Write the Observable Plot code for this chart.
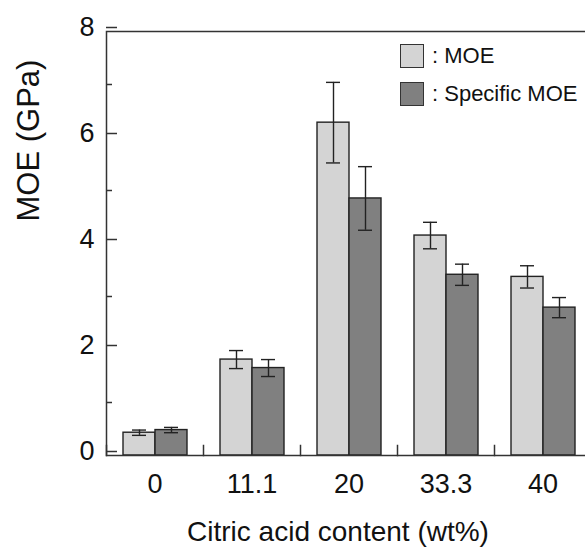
<!DOCTYPE html>
<html><head><meta charset="utf-8">
<script src="https://cdn.jsdelivr.net/npm/d3@7"></script>
<script src="https://cdn.jsdelivr.net/npm/@observablehq/plot@0.6"></script>
<style>
body{margin:0;background:#fff;font-family:"Liberation Sans",Arial,sans-serif}
#wrap{position:relative;width:585px;height:547px;overflow:hidden;background:#fff}
.lg{position:absolute;left:400px;display:flex;align-items:center;font-size:22px;color:#111;white-space:nowrap}
.lg .box{width:22px;height:22px;border:1.5px solid #333;margin-right:8px}
</style></head><body><div id="wrap"></div>
<script>
const categories = ["0","11.1","20","33.3","40"];
const series = ["MOE","Specific MOE"];
const legendLabels = [": MOE", ": Specific MOE"];
const moe = [0.43,1.81,6.28,4.15,3.37];
const moeErr = [0.05,0.17,0.76,0.25,0.21];
const specific = [0.48,1.65,4.85,3.41,2.79];
const specificErr = [0.05,0.16,0.60,0.20,0.19];
const yTicks = [0,2,4,6,8];
const yMinor = [1,3,5,7];
const colors = ["#d4d4d4","#808080"];
const xTitle = "Citric acid content (wt%)";
const yTitle = "MOE (GPa)";

const rows = categories.flatMap((c,i)=>[
  {cat:c, series:series[0], value:moe[i], err:moeErr[i]},
  {cat:c, series:series[1], value:specific[i], err:specificErr[i]}
]);

const W = 585, H = 547, mt = 31, mb = 92;
const innerH = H - mt - mb;
const ink = "#222";
const plot = Plot.plot({
  width: W, height: H, marginTop: mt, marginBottom: mb, marginLeft: 105, marginRight: -7,
  style: {fontFamily: "Liberation Sans, Arial, sans-serif", background: "white", color: "#111"},
  fx: {domain: categories, padding: 0, label: null},
  x: {domain: series, paddingInner: 0, paddingOuter: 0.5, axis: null},
  y: {domain: [0, 8], label: null},
  color: {domain: series, range: colors},
  marks: [
    Plot.barY(rows, {fx: "cat", x: "series", y: "value", fill: "series", stroke: ink, strokeWidth: 1.4}),
    Plot.ruleX(rows, {fx: "cat", x: "series", y1: d => d.value - d.err, y2: d => d.value + d.err, stroke: ink, strokeWidth: 1.4}),
    Plot.tickY(rows, {fx: "cat", x: "series", y: d => d.value + d.err, stroke: ink, strokeWidth: 1.4, insetLeft: 9, insetRight: 9}),
    Plot.tickY(rows, {fx: "cat", x: "series", y: d => d.value - d.err, stroke: ink, strokeWidth: 1.4, insetLeft: 9, insetRight: 9}),
    Plot.frame({anchor: "left", insetTop: innerH - 10, stroke: "#333", strokeWidth: 1.5}),
    Plot.frame({facet: "super", stroke: "#333", strokeWidth: 1.5}),
    Plot.axisY({ticks: yTicks, tickSize: -11, tickPadding: 23, fontSize: 27, dy: -4, stroke: "#333", strokeWidth: 1.5, label: null}),
    Plot.axisY({ticks: yMinor, tickSize: -6, tickFormat: () => "", stroke: "#333", strokeWidth: 1.5, label: null}),
    Plot.axisFx({anchor: "bottom", tickSize: 0, tickPadding: 18, fontSize: 27, label: null}),
    Plot.text([xTitle], {facet: "super", frameAnchor: "bottom", dy: 85, dx: -11, lineAnchor: "bottom", fontSize: 28, fill: "#111"}),
    Plot.text([yTitle], {facet: "super", frameAnchor: "left", rotate: -90, dx: -77, dy: -22, lineAnchor: "middle", fontSize: 31, fill: "#111"})
  ]
});
const wrap = document.getElementById("wrap");
wrap.appendChild(plot);
const tops = [43, 81];
series.forEach((s, i) => {
  const d = document.createElement("div");
  d.className = "lg";
  d.style.top = tops[i] + "px";
  d.innerHTML = `<span class="box" style="background:${colors[i]}"></span><span>${legendLabels[i]}</span>`;
  wrap.appendChild(d);
});
</script></body></html>
